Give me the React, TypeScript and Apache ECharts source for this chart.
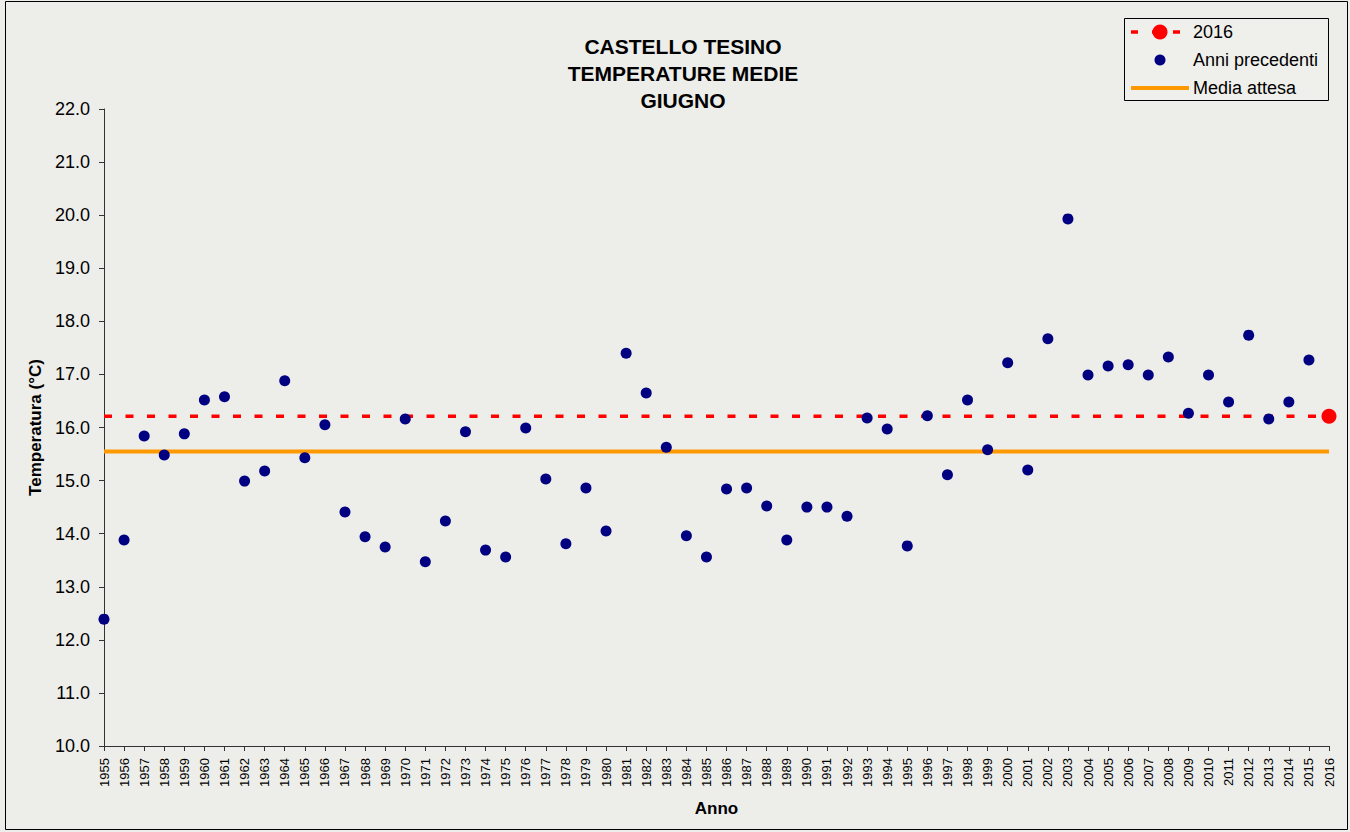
import React, { useEffect, useRef } from "react";
import * as echarts from "echarts";

// ---- Data ----
const titleLines = ["CASTELLO TESINO", "TEMPERATURE MEDIE", "GIUGNO"];
const legendLabels = ["2016", "Anni precedenti", "Media attesa"];
const xAxisName = "Anno";
const yAxisName = "Temperatura (°C)";

const prevYears = [
  1955, 1956, 1957, 1958, 1959, 1960, 1961, 1962, 1963, 1964,
  1965, 1966, 1967, 1968, 1969, 1970, 1971, 1972, 1973, 1974,
  1975, 1976, 1977, 1978, 1979, 1980, 1981, 1982, 1983, 1984,
  1985, 1986, 1987, 1988, 1989, 1990, 1991, 1992, 1993, 1994,
  1995, 1996, 1997, 1998, 1999, 2000, 2001, 2002, 2003, 2004,
  2005, 2006, 2007, 2008, 2009, 2010, 2011, 2012, 2013, 2014,
  2015,
];
const prevTemps = [
  12.39, 13.88, 15.84, 15.48, 15.88, 16.52, 16.58, 14.99, 15.18, 16.88,
  15.43, 16.05, 14.41, 13.94, 13.75, 16.16, 13.47, 14.24, 15.92, 13.69,
  13.56, 15.99, 15.03, 13.81, 14.86, 14.05, 17.40, 16.65, 15.63, 13.96,
  13.56, 14.84, 14.86, 14.52, 13.88, 14.50, 14.50, 14.33, 16.18, 15.97,
  13.77, 16.22, 15.11, 16.52, 15.58, 17.22, 15.20, 17.67, 19.93, 16.99,
  17.16, 17.18, 16.99, 17.33, 16.27, 16.99, 16.48, 17.74, 16.16, 16.48,
  17.27,
];
const currentYear = 2016;
const currentTemp = 16.21;
const expectedMean = 15.55;

const xMin = 1955;
const xMax = 2016;
const yMin = 10;
const yMax = 22;

export default function App() {
  const ref = useRef<HTMLDivElement>(null);

  useEffect(() => {
    if (!ref.current) return;
    const chart = echarts.init(ref.current, null, { renderer: "svg" });

    const font = "'Liberation Sans', Arial, sans-serif";
    const lx = 1131;
    const lx2 = 1189;
    const ltx = 1193;
    const lys = [32, 60, 88];

    const option: any = {
      animation: false,
      backgroundColor: "#ededea",
      textStyle: { fontFamily: font, color: "#000" },
      title: {
        text: titleLines.join("\n"),
        left: 678,
        top: 28,
        textAlign: "center",
        textStyle: {
          fontFamily: font,
          fontSize: 21,
          fontWeight: "bold",
          lineHeight: 27,
          color: "#000",
        },
      },
      grid: { left: 104, right: 21, top: 109, bottom: 86, containLabel: false },
      xAxis: {
        type: "value",
        min: xMin,
        max: xMax,
        interval: 1,
        name: xAxisName,
        nameLocation: "middle",
        nameGap: 54,
        nameTextStyle: { fontFamily: font, fontSize: 17, fontWeight: "bold", color: "#000" },
        axisLine: { show: true, lineStyle: { color: "#333", width: 1 } },
        axisTick: { show: true, length: 5, lineStyle: { color: "#333" } },
        axisLabel: {
          rotate: 90,
          fontSize: 13,
          fontFamily: font,
          color: "#000",
          margin: 12,
          formatter: (v: number) => String(v),
        },
        splitLine: { show: false },
      },
      yAxis: {
        type: "value",
        min: yMin,
        max: yMax,
        interval: 1,
        name: yAxisName,
        nameLocation: "middle",
        nameRotate: 90,
        nameGap: 60,
        nameTextStyle: { fontFamily: font, fontSize: 17, fontWeight: "bold", color: "#000" },
        axisLine: { show: true, lineStyle: { color: "#333", width: 1 } },
        axisTick: { show: true, length: 5, lineStyle: { color: "#333" } },
        axisLabel: {
          fontSize: 18,
          fontFamily: font,
          color: "#000",
          margin: 14,
          formatter: (v: number) => v.toFixed(1),
        },
        splitLine: { show: false },
      },
      series: [
        {
          name: legendLabels[2],
          type: "line",
          data: [
            [xMin, expectedMean],
            [xMax, expectedMean],
          ],
          symbol: "none",
          lineStyle: { color: "#ff9900", width: 4 },
          z: 2,
        },
        {
          name: legendLabels[0],
          type: "line",
          data: [
            { value: [xMin, currentTemp], symbol: "none" },
            { value: [currentYear, currentTemp], symbol: "circle", symbolSize: 15 },
          ],
          showSymbol: true,
          clip: false,
          lineStyle: { color: "#ff0000", width: 3.5, type: [8, 13.5] },
          itemStyle: { color: "#ff0000", opacity: 1 },
          z: 3,
        },
        {
          name: legendLabels[1],
          type: "scatter",
          data: prevYears.map((y, i) => [y, prevTemps[i]]),
          symbol: "circle",
          symbolSize: 11,
          clip: false,
          itemStyle: { color: "#000080", opacity: 1 },
          z: 4,
        },
      ],
      graphic: [
        {
          type: "rect",
          shape: { x: 5.5, y: 1.5, width: 1342, height: 828 },
          style: { fill: "none", stroke: "#000", lineWidth: 1 },
          z: 10,
          silent: true,
        },
        {
          type: "rect",
          shape: { x: 1124.5, y: 18.5, width: 204, height: 82 },
          style: { fill: "#efefec", stroke: "#000", lineWidth: 1 },
          z: 10,
        },
        {
          type: "line",
          shape: { x1: lx, y1: lys[0], x2: lx2, y2: lys[0] },
          style: { stroke: "#ff0000", lineWidth: 3.5, lineDash: [7, 14] },
          z: 11,
        },
        {
          type: "circle",
          shape: { cx: (lx + lx2) / 2, cy: lys[0], r: 7.5 },
          style: { fill: "#ff0000" },
          z: 12,
        },
        {
          type: "circle",
          shape: { cx: (lx + lx2) / 2, cy: lys[1], r: 5.5 },
          style: { fill: "#000080" },
          z: 12,
        },
        {
          type: "line",
          shape: { x1: lx, y1: lys[2], x2: lx2, y2: lys[2] },
          style: { stroke: "#ff9900", lineWidth: 4 },
          z: 11,
        },
        ...legendLabels.map((t, i) => ({
          type: "text",
          x: ltx,
          y: lys[i],
          style: {
            text: t,
            fontFamily: font,
            fontSize: 18,
            fill: "#000",
            textVerticalAlign: "middle",
            verticalAlign: "middle",
          },
          z: 12,
        })),
      ],
    };

    chart.setOption(option);
    return () => chart.dispose();
  }, []);

  return (
    <div
      ref={ref}
      style={{ position: "absolute", left: 0, top: 0, width: 1350, height: 832 }}
    />
  );
}
